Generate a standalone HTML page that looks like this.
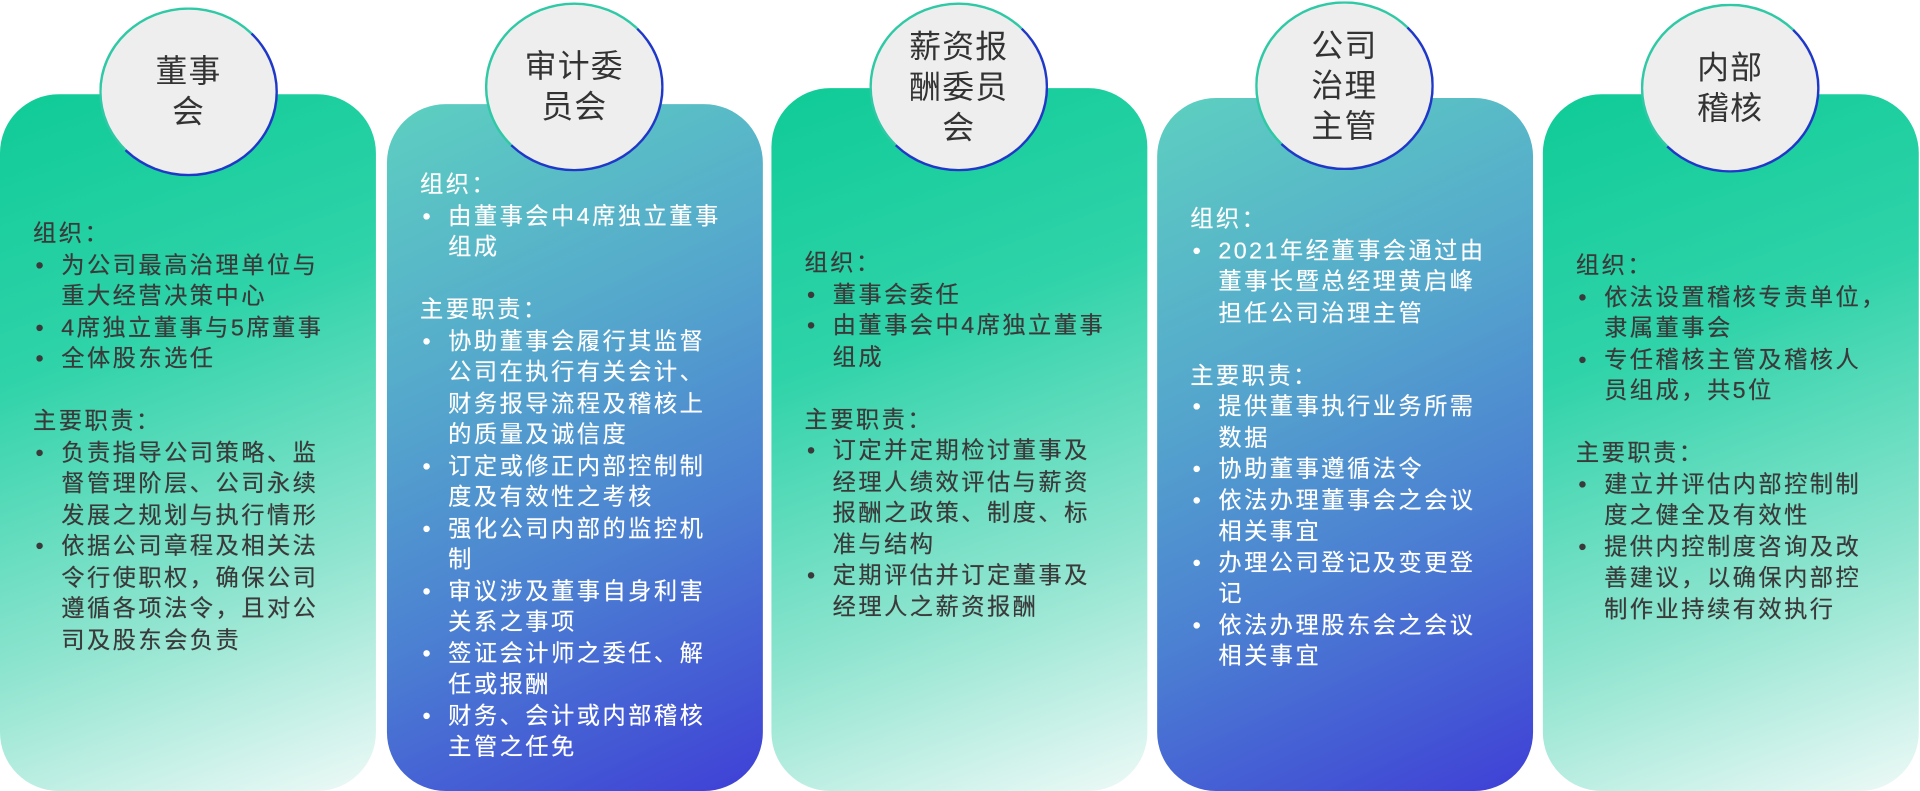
<!DOCTYPE html>
<html><head><meta charset="utf-8">
<style>
html,body{margin:0;padding:0;background:#fff;width:1920px;height:791px;overflow:hidden}
#w{position:absolute;left:0;top:0;width:1568px;height:646px;transform:scale(1.22449);transform-origin:0 0}
.card{position:absolute;width:307px;border-radius:48px;font-family:"Liberation Sans","Noto Sans CJK SC",sans-serif}
.g{background:linear-gradient(160deg,#0fcb97 0%,#2fd3a9 35%,#8ee4cf 70%,#eef9f7 100%);color:#3a3a3a}
.b{background:linear-gradient(155deg,#5dd0c0 0%,#55a9cc 35%,#4b7fd2 65%,#3f3fd6 100%);color:#fff}
.txt{position:absolute;left:27px;font-size:19px;letter-spacing:2px;line-height:25.5px;white-space:nowrap}
.g .txt{text-shadow:0 0 0.4px #3a3a3a}
.b .txt{text-shadow:0 0 0.4px #fff}
.txt .li{position:relative;padding-left:23px}
.txt .li:before{content:"•";position:absolute;left:2px;top:0}
.gap{height:25.5px}
.circ{position:absolute;width:146px;height:138px;border-radius:50%;background:#eeeeee;border:2px solid #1f38c8;border-top-color:#2fc9a5;border-left-color:#2fc9a5;box-sizing:border-box;display:flex;align-items:center;justify-content:center;text-align:center;font-family:"Liberation Sans","Noto Sans CJK SC",sans-serif;font-size:26px;letter-spacing:1px;line-height:33px;color:#333}
</style></head><body><div id="w">

<div class="card g" style="left:0;top:77px;height:569px">
<div class="txt" style="top:102px">
<div>组织：</div>
<div class="li">为公司最高治理单位与<br>重大经营决策中心</div>
<div class="li">4席独立董事与5席董事</div>
<div class="li">全体股东选任</div>
<div class="gap"></div>
<div>主要职责：</div>
<div class="li">负责指导公司策略、监<br>督管理阶层、公司永续<br>发展之规划与执行情形</div>
<div class="li">依据公司章程及相关法<br>令行使职权，确保公司<br>遵循各项法令，且对公<br>司及股东会负责</div>
</div></div>

<div class="card b" style="left:316px;top:85px;height:561px">
<div class="txt" style="top:54px">
<div>组织：</div>
<div class="li">由董事会中4席独立董事<br>组成</div>
<div class="gap"></div>
<div>主要职责：</div>
<div class="li">协助董事会履行其监督<br>公司在执行有关会计、<br>财务报导流程及稽核上<br>的质量及诚信度</div>
<div class="li">订定或修正内部控制制<br>度及有效性之考核</div>
<div class="li">强化公司内部的监控机<br>制</div>
<div class="li">审议涉及董事自身利害<br>关系之事项</div>
<div class="li">签证会计师之委任、解<br>任或报酬</div>
<div class="li">财务、会计或内部稽核<br>主管之任免</div>
</div></div>

<div class="card g" style="left:630px;top:72px;height:574px">
<div class="txt" style="top:131px">
<div>组织：</div>
<div class="li">董事会委任</div>
<div class="li">由董事会中4席独立董事<br>组成</div>
<div class="gap"></div>
<div>主要职责：</div>
<div class="li">订定并定期检讨董事及<br>经理人绩效评估与薪资<br>报酬之政策、制度、标<br>准与结构</div>
<div class="li">定期评估并订定董事及<br>经理人之薪资报酬</div>
</div></div>

<div class="card b" style="left:945px;top:80px;height:566px">
<div class="txt" style="top:87px">
<div>组织：</div>
<div class="li">2021年经董事会通过由<br>董事长暨总经理黄启峰<br>担任公司治理主管</div>
<div class="gap"></div>
<div>主要职责：</div>
<div class="li">提供董事执行业务所需<br>数据</div>
<div class="li">协助董事遵循法令</div>
<div class="li">依法办理董事会之会议<br>相关事宜</div>
<div class="li">办理公司登记及变更登<br>记</div>
<div class="li">依法办理股东会之会议<br>相关事宜</div>
</div></div>

<div class="card g" style="left:1260px;top:77px;height:569px">
<div class="txt" style="top:128px">
<div>组织：</div>
<div class="li">依法设置稽核专责单位，<br>隶属董事会</div>
<div class="li">专任稽核主管及稽核人<br>员组成，共5位</div>
<div class="gap"></div>
<div>主要职责：</div>
<div class="li">建立并评估内部控制制<br>度之健全及有效性</div>
<div class="li">提供内控制度咨询及改<br>善建议，以确保内部控<br>制作业持续有效执行</div>
</div></div>

<div class="circ" style="left:81px;top:6px">董事<br>会</div>
<div class="circ" style="left:396px;top:2px">审计委<br>员会</div>
<div class="circ" style="left:710px;top:2px">薪资报<br>酬委员<br>会</div>
<div class="circ" style="left:1025px;top:1px">公司<br>治理<br>主管</div>
<div class="circ" style="left:1340px;top:3px">内部<br>稽核</div>

</div></body></html>
